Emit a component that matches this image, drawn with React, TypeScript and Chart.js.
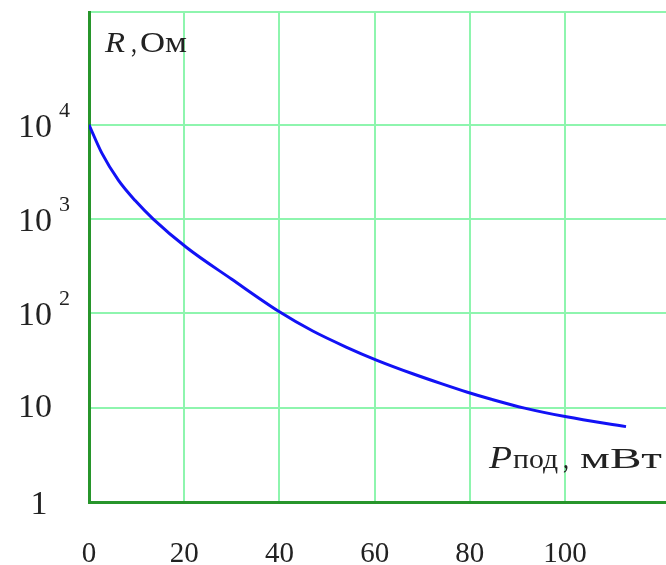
import React, { useEffect, useRef } from "react";
import { Chart, registerables } from "chart.js";

Chart.register(...registerables);

// Data
const powerMw = [0, 2.7, 6.2, 9.7, 13.5, 20.5, 30, 40, 47, 54, 60.5, 68, 74, 79.5, 84.5, 91.5, 100.3, 112.8];
const resistanceOhm = [10000, 5000, 2570, 1570, 1000, 500, 230, 104, 65, 44, 31.8, 22.9, 18.0, 14.6, 12.3, 9.9, 8.0, 6.3];

const xTickValues = [0, 20, 40, 60, 80, 100];
const xTickLabels = ["0", "20", "40", "60", "80", "100"];
const yTickValues = [1, 10, 100, 1000, 10000];
const yTickBase = ["1", "10", "10", "10", "10"];
const yTickExp = ["", "", "2", "3", "4"];

const X_MIN = 0;
const X_MAX = 121.2;
const Y_MIN = 1;
const Y_MAX = 157000;

const SERIF = "'Liberation Serif', 'Times New Roman', serif";
const TEXT = "#222222";
const GRID = "#8ef5ae";
const AXIS = "#27952b";

function drawFit(ctx: CanvasRenderingContext2D, text: string, x: number, y: number, width: number, font: string) {
  ctx.save();
  ctx.font = font;
  ctx.textAlign = "left";
  ctx.textBaseline = "alphabetic";
  const w = ctx.measureText(text).width;
  ctx.translate(x, y);
  ctx.scale(width / w, 1);
  ctx.fillText(text, 0, 0);
  ctx.restore();
}

const labelsPlugin = {
  id: "customLabels",
  afterDraw(chart: any) {
    const ctx = chart.ctx as CanvasRenderingContext2D;
    const ys = chart.scales.y;
    const xs = chart.scales.x;
    ctx.save();
    ctx.fillStyle = TEXT;
    // y tick labels with exponent
    yTickValues.forEach((v, i) => {
      const py = ys.getPixelForValue(v);
      ctx.font = `34px ${SERIF}`;
      ctx.textAlign = "center";
      ctx.textBaseline = "alphabetic";
      const cx = yTickBase[i] === "1" ? 39 : 35;
      const dy = v === 10 ? 9 : 12;
      ctx.fillText(yTickBase[i], cx, py + dy);
      if (yTickExp[i]) {
        ctx.font = `22px ${SERIF}`;
        ctx.textAlign = "left";
        ctx.fillText(yTickExp[i], 59, py - 8);
      }
    });
    // x tick labels
    xTickValues.forEach((v, i) => {
      const px = xs.getPixelForValue(v);
      ctx.font = `29px ${SERIF}`;
      ctx.textAlign = "center";
      ctx.textBaseline = "alphabetic";
      ctx.fillText(xTickLabels[i], px, 562);
    });
    ctx.restore();
    ctx.save();
    ctx.fillStyle = TEXT;
    // y axis title
    drawFit(ctx, "R", 105, 52, 20, `italic 30px ${SERIF}`);
    drawFit(ctx, ",", 131, 52, 6, `29px ${SERIF}`);
    drawFit(ctx, "Ом", 140, 52, 47, `29px ${SERIF}`);
    // x axis title
    drawFit(ctx, "P", 489, 468, 23, `italic 32px ${SERIF}`);
    drawFit(ctx, "под", 513, 468, 45, `28px ${SERIF}`);
    drawFit(ctx, ",", 563, 468, 6, `30px ${SERIF}`);
    drawFit(ctx, "мВт", 580, 468, 82, `30px ${SERIF}`);
    ctx.restore();
  },
};

export default function App() {
  const canvasRef = useRef<HTMLCanvasElement | null>(null);

  useEffect(() => {
    if (!canvasRef.current) return;
    const chart = new Chart(canvasRef.current, {
      type: "line",
      data: {
        datasets: [
          {
            data: powerMw.map((p, i) => ({ x: p, y: resistanceOhm[i] })),
            borderColor: "#1212f5",
            borderWidth: 3,
            pointRadius: 0,
            cubicInterpolationMode: "monotone",
            fill: false,
          },
        ],
      },
      options: {
        responsive: false,
        animation: false,
        layout: { padding: { left: 89, top: 12, right: 0, bottom: 63 } },
        plugins: { legend: { display: false }, tooltip: { enabled: false } },
        scales: {
          x: {
            type: "linear",
            min: X_MIN,
            max: X_MAX,
            afterBuildTicks: (axis: any) => {
              axis.ticks = xTickValues.map((v) => ({ value: v }));
            },
            grid: { color: GRID, lineWidth: 2, drawTicks: false },
            border: { color: AXIS, width: 3 },
            ticks: { display: false },
          },
          y: {
            type: "logarithmic",
            min: Y_MIN,
            max: Y_MAX,
            afterBuildTicks: (axis: any) => {
              axis.ticks = [...yTickValues, Y_MAX].map((v) => ({ value: v }));
            },
            grid: { color: GRID, lineWidth: 2, drawTicks: false },
            border: { color: AXIS, width: 3 },
            ticks: { display: false },
          },
        },
      },
      plugins: [labelsPlugin],
    } as any);
    return () => chart.destroy();
  }, []);

  return (
    <div style={{ position: "absolute", left: 0, top: 0, width: 666, height: 565, background: "#fff" }}>
      <canvas ref={canvasRef} width={666} height={565} style={{ display: "block" }} />
    </div>
  );
}
